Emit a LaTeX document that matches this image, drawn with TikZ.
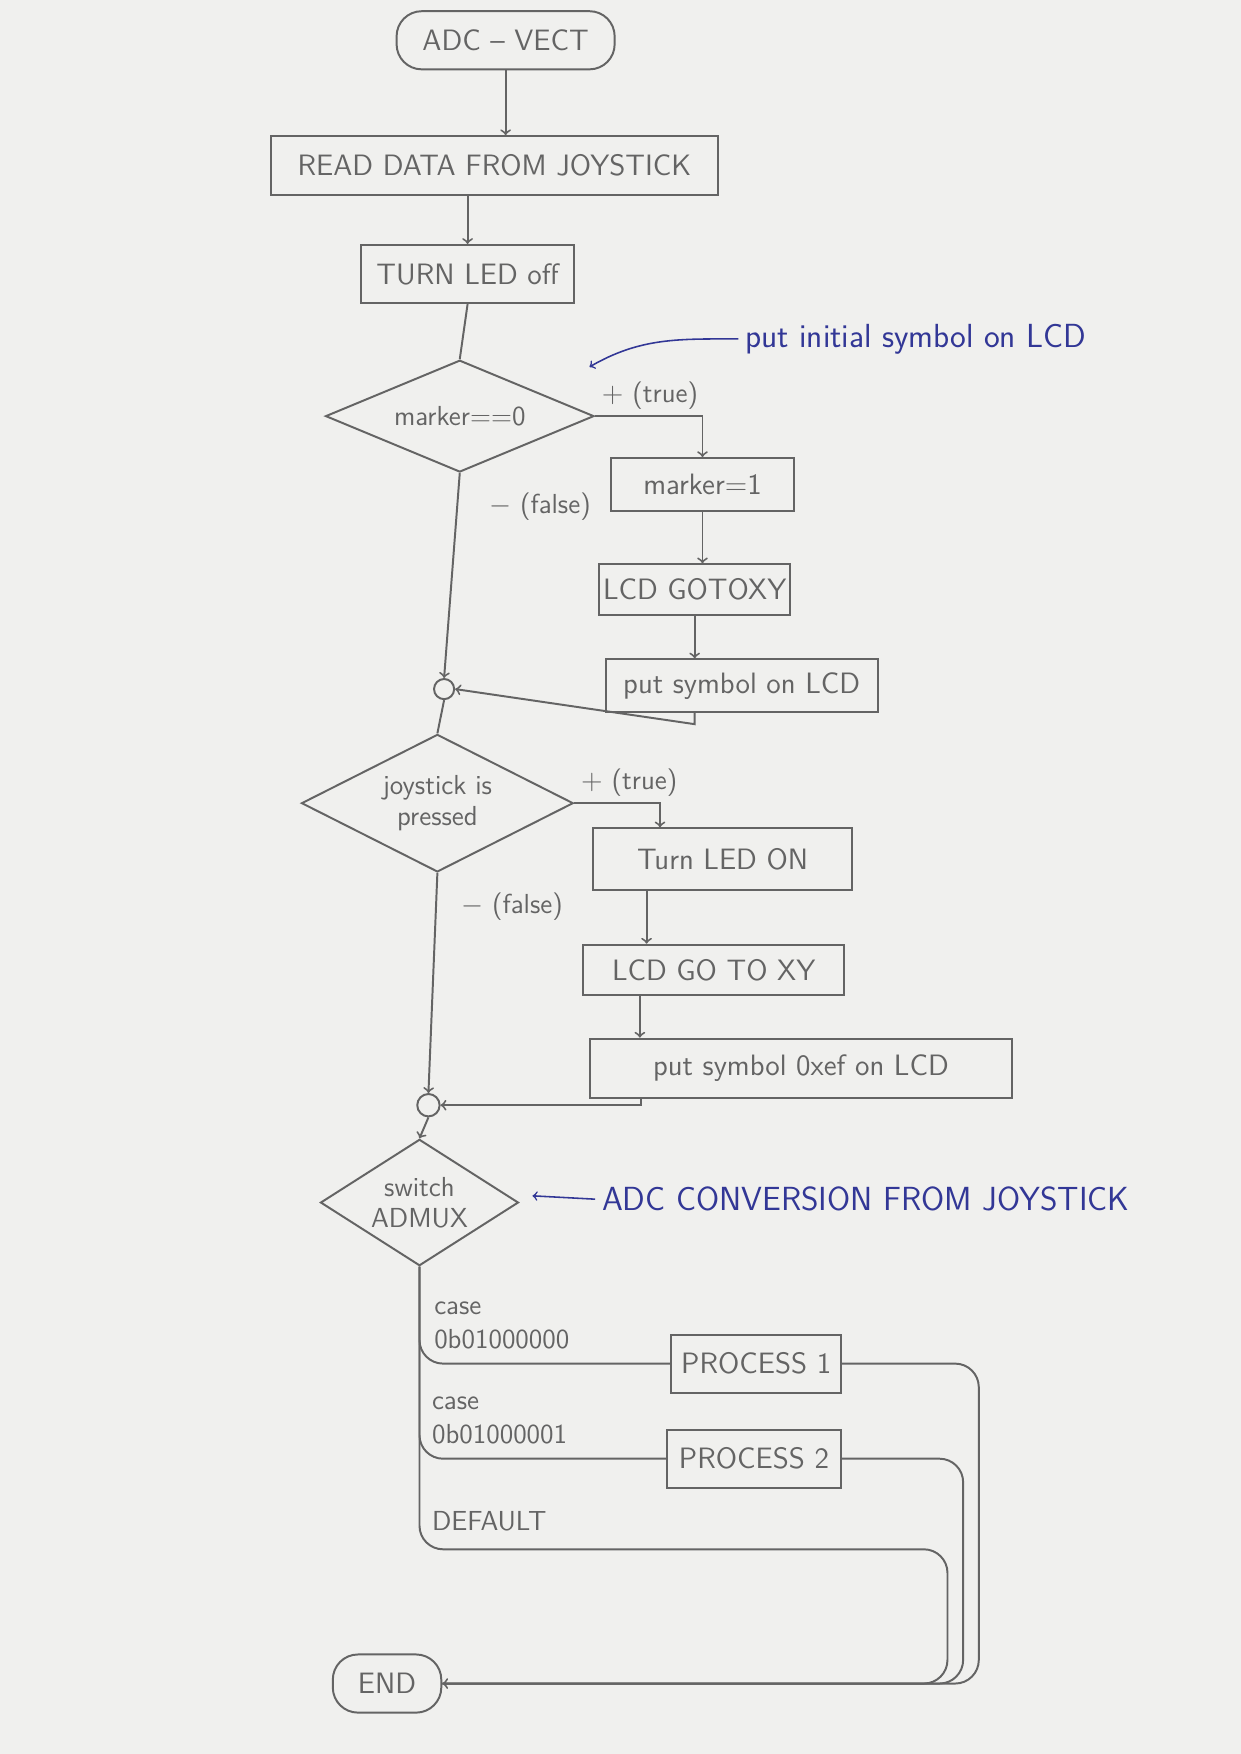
\documentclass[tikz,border=0pt]{standalone}
\usepackage{fontspec}
\usepackage{tikz}
\usetikzlibrary{shapes.geometric}

\definecolor{pencil}{RGB}{100,100,100}
\definecolor{ink}{RGB}{50,55,150}
\definecolor{paper}{RGB}{240,240,238}

\begin{document}
\begin{tikzpicture}[x=0.02cm,y=-0.02cm,
  every node/.style={font=\sffamily\fontsize{15}{17}\selectfont,text=pencil},
  pen/.style={draw=pencil,line width=1pt},
  box/.style={pen,rectangle,inner sep=2pt},
  dec/.style={pen,diamond,inner sep=0pt,align=center,font=\sffamily\fontsize{14}{16}\selectfont},
  junction/.style={pen,circle,inner sep=0pt},
  note/.style={text=ink,font=\sffamily\fontsize{17}{19}\selectfont},
  lbl/.style={font=\sffamily\fontsize{14}{17}\selectfont}]
\fill[paper] (0,0) rectangle (1109,1568);
\node[box,rounded corners=0.45cm,minimum width=3.9cm,minimum height=1.04cm] (start) at (452,36) {ADC -- VECT};
\node[box,minimum width=8cm,minimum height=1.05cm] (read) at (442,148) {READ DATA FROM JOYSTICK};
\node[box,minimum width=3.8cm,minimum height=1.04cm] (ledoff) at (418,245) {TURN LED off};
\node[dec,aspect=2.4,minimum width=4.8cm,minimum height=2cm] (marker0) at (411,372) {marker==0};
\node[box,minimum width=3.28cm,minimum height=0.94cm] (marker1) at (628,433) {marker=1};
\node[box,minimum width=3.14cm,minimum height=0.9cm] (goto1) at (621,527) {LCD GOTOXY};
\node[box,minimum width=4.86cm,minimum height=0.94cm] (putsym1) at (663,613) {put symbol on LCD};
\node[junction,minimum size=0.36cm] (join1) at (397,616) {};
\node[dec,aspect=2,minimum width=4.86cm,minimum height=2.46cm] (pressed) at (391,718) {joystick is\\pressed};
\node[box,minimum width=4.64cm,minimum height=1.1cm] (ledon) at (646,768) {Turn LED ON};
\node[box,minimum width=4.66cm,minimum height=0.9cm] (goto2) at (638,867) {LCD GO TO XY};
\node[box,minimum width=7.54cm,minimum height=1.06cm] (putsym2) at (716,955) {put symbol 0xef on LCD};
\node[junction,minimum size=0.4cm] (join2) at (383,988) {};
\node[dec,aspect=1.57,minimum width=3.54cm,minimum height=2.26cm] (admux) at (375,1075) {switch\\ADMUX};
\node[box,minimum width=3.04cm,minimum height=1.04cm] (proc1) at (676,1219) {PROCESS 1};
\node[box,minimum width=3.1cm,minimum height=1.04cm] (proc2) at (674,1304) {PROCESS 2};
\node[box,rounded corners=0.45cm,minimum width=1.94cm,minimum height=1.04cm] (stop) at (346,1505) {END};
\node[note,anchor=west] (note1) at (660,303) {put initial symbol on LCD};
\coordinate (tip1) at (527,328);
\node[note,anchor=west] (note2) at (532,1072) {ADC CONVERSION FROM JOYSTICK};
\coordinate (tip2) at (476,1069);
\node[lbl,above right] at (marker0.east) {$+$ (true)};
\node[lbl,anchor=west] at ([xshift=0.4cm,yshift=-0.6cm]marker0.south) {$-$ (false)};
\node[lbl,above right] at (pressed.east) {$+$ (true)};
\node[lbl,anchor=west] at ([xshift=0.3cm,yshift=-0.6cm]pressed.south) {$-$ (false)};
\node[lbl,anchor=south west,align=left] (case1) at (382,1212) {case\\0b01000000};
\node[lbl,anchor=south west,align=left] (case2) at (380,1297) {case\\0b01000001};
\node[lbl,anchor=west] (dflt) at (380,1360) {DEFAULT};
\coordinate (t2) at ([xshift=-1.12cm]ledon.north);
\coordinate (a2) at ([xshift=-1.36cm]ledon.south);
\coordinate (b2) at ([xshift=-1.32cm]goto2.south);
\coordinate (r2) at ([xshift=-2.86cm]putsym2.south);
\draw[pen,->] (start.south) -- (start.south |- read.north);
\draw[pen,->] (read.south -| ledoff.north) -- (ledoff.north);
\draw[pen] (ledoff.south) -- (marker0.north);
\draw[pen,->] (marker0.east) -| (marker1.north);
\draw[pen,->] (marker1.south) -- (marker1.south |- goto1.north);
\draw[pen,->] (goto1.south) -- (goto1.south |- putsym1.north);
\draw[pen,->] (putsym1.south -| goto1) -- ++(0,10) -- (join1.east);
\draw[pen,->] (marker0.south) -- (join1.north);
\draw[pen] (join1.south) -- (pressed.north);
\draw[pen,->] (pressed.east) -| (t2);
\draw[pen,->] (a2) -- (a2 |- goto2.north);
\draw[pen,->] (b2) -- (b2 |- putsym2.north);
\draw[pen,->] (r2) |- (join2.east);
\draw[pen,->] (pressed.south) -- (join2.north);
\draw[pen,->] (join2.south) -- (admux.north);
\draw[pen,rounded corners=12pt] (admux.south) |- (proc1.west);
\draw[pen,rounded corners=12pt] (admux.south) |- (proc2.west);
\draw[pen,rounded corners=12pt] (admux.south) |- (847,1385) -- (847,1505) -- (stop.east);
\draw[pen,rounded corners=12pt] (proc2.east) -| (861,1505) -- (stop.east);
\draw[pen,->,rounded corners=12pt] (proc1.east) -| (875,1505) -- (stop.east);
\draw[ink,line width=0.8pt,->] (note1.west) to[out=180,in=30] (tip1);
\draw[ink,line width=0.8pt,->] (note2.west) -- (tip2);
\end{tikzpicture}
\end{document}
